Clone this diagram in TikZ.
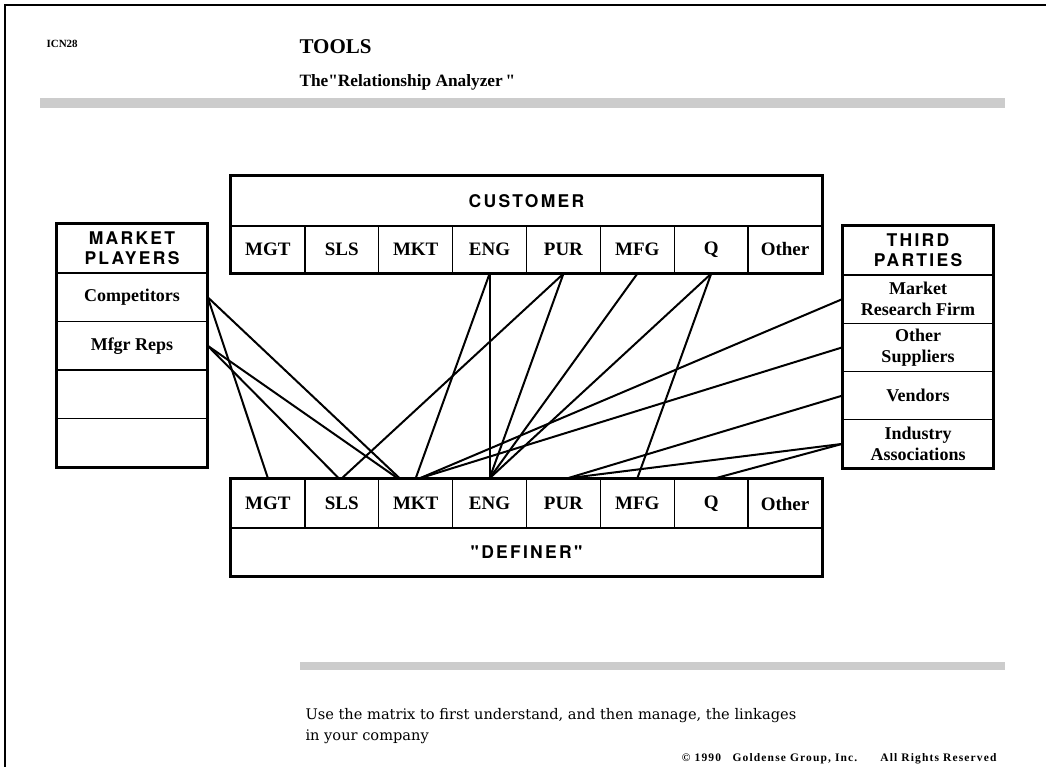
\documentclass[tikz,border=0pt]{standalone}
\usepackage{fontspec}
\setmainfont{Liberation Serif}
\newfontfamily\hdrfont[LetterSpace=13]{TeX Gyre Heros}
\newfontfamily\notefont{DejaVu Serif}
\newfontfamily\copyfont[LetterSpace=10]{Liberation Serif}
\usetikzlibrary{calc}

\tikzset{
  frame/.style={line width=1.4pt},
  band/.style={fill=black!20, draw=none},
  cell/.style={draw, line width=1.4pt, rectangle, inner sep=0pt,
    minimum width=73.875pt, minimum height=47pt,
    font=\fontsize{19}{21}\selectfont\bfseries},
  sidecell/.style={draw, line width=1.4pt, rectangle, inner sep=0pt,
    minimum width=150pt, minimum height=48.5pt, align=center,
    font=\fontsize{18}{21}\selectfont\bfseries},
  hdr/.style={font=\fontsize{17.5}{20}\selectfont\hdrfont\bfseries, align=center},
  outline/.style={draw, line width=2.4pt},
  link/.style={line width=2pt}
}

\begin{document}
\begin{tikzpicture}[x=1pt,y=-1pt]
\useasboundingbox (0,0) rectangle (1046,767);
% page frame
\draw[frame] (5,767) -- (5,5) -- (1046,5);
% heading
\node[anchor=base west, font=\fontsize{11}{12}\selectfont\bfseries] (code) at (43,48) {ICN28};
\node[anchor=base west, font=\fontsize{21}{24}\selectfont\bfseries] (title) at (296,54) {TOOLS};
\node[anchor=base west, font=\fontsize{17.3}{20}\selectfont\bfseries] (subtitle) at (296,87)
  {The\textquotedbl Relationship Analyzer\,\textquotedbl};
\fill[band] (40,98) rectangle (1005,108);
% customer
\node[outline, hdr, minimum width=591pt, minimum height=50pt, inner sep=0pt] (cust) at (526.5,201) {CUSTOMER};
\foreach \d [count=\i from 0] in {MGT,SLS,MKT,ENG,PUR,MFG,Q,Other}
  \node[cell] (c\d) at ({231+73.875*(\i+0.5)},249.5) {\d};
\draw[outline] (cust.north west) rectangle (cOther.south east);
% definer
\foreach \d [count=\i from 0] in {MGT,SLS,MKT,ENG,PUR,MFG,Q,Other}
  \node[cell, minimum height=49pt] (d\d) at ({231+73.875*(\i+0.5)},503.5) {\d};
\node[cell, hdr, minimum width=591pt, minimum height=48pt] (def) at (526.5,552) {"DEFINER"};
\draw[outline] (dMGT.north west) rectangle (def.south east);
% market players
\node[sidecell, hdr, minimum height=49pt] (mp) at (132,248.5) {MARKET\\PLAYERS};
\foreach \t/\n [count=\i from 0] in {Competitors/mpComp, Mfgr Reps/mpReps, /mpE1, /mpE2}
  \node[sidecell] (\n) at (132,{273+48.5*(\i+0.5)}) {\t};
\draw[outline] (mp.north west) rectangle (mpE2.south east);
% third parties
\node[sidecell, hdr, minimum height=49pt] (tp) at (918,250.5) {THIRD\\PARTIES};
\foreach \t/\n [count=\i from 0] in {Market\\Research Firm/tpMRF, Other\\Suppliers/tpOS, Vendors/tpVen, Industry\\Associations/tpIA}
  \node[sidecell, minimum height=48.25pt] (\n) at (918,{275+48.25*(\i+0.5)}) {\t};
\draw[outline] (tp.north west) rectangle (tpIA.south east);
% linkages
\draw[link] (mpComp.east) -- (dMGT.north);
\draw[link] (mpComp.east) -- ($(dMKT.north)+(-16,0)$);
\draw[link] (mpReps.east) -- ($(dSLS.north)+(-3,0)$);
\draw[link] (mpReps.east) -- ($(dMKT.north)+(-18,0)$);
\draw[link] (cENG.south) -- (dMKT.north);
\draw[link] (cENG.south) -- (dENG.north);
\draw[link] (cPUR.south) -- (dSLS.north);
\draw[link] (cPUR.south) -- (dENG.north);
\draw[link] (cMFG.south) -- (dENG.north);
\draw[link] (cQ.south) -- (dENG.north);
\draw[link] (cQ.south) -- (dMFG.north);
\draw[link] (tpMRF.west) -- ($(dMKT.north)+(4,0)$);
\draw[link] (tpOS.west) -- ($(dMKT.north)+(4,0)$);
\draw[link] (tpVen.west) -- ($(dPUR.north)+(4,0)$);
\draw[link] (tpIA.west) -- ($(dPUR.north)+(4,0)$);
\draw[link] (tpIA.west) -- ($(dQ.north)+(4,0)$);
% footer
\fill[band] (300,662) rectangle (1005,670);
\node[anchor=base west, align=left, font=\fontsize{14.6}{21}\selectfont\notefont] (note) at (302,740)
  {Use the matrix to first understand, and then manage, the linkages\\in your company};
\node[anchor=base east, font=\fontsize{11.5}{12}\selectfont\copyfont\bfseries] (copy) at (1000,761)
  {© 1990\quad Goldense Group, Inc.\qquad All Rights Reserved};
\end{tikzpicture}
\end{document}
